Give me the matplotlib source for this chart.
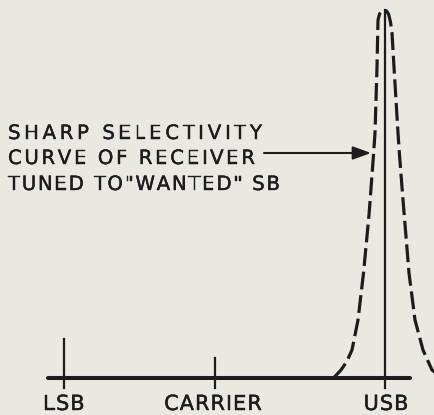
import matplotlib.pyplot as plt
import matplotlib.patheffects as pe
from matplotlib import font_manager, ft2font

# Frequency markers along the baseline (x in px, tick height above baseline)
marker_names = ['LSB', 'CARRIER', 'USB']
marker_x = [64, 215, 385]
marker_top = [39, 20, 367]

# Label positions under the baseline (centre x)
label_x = [64, 213, 386]

# Dashed selectivity curve (x, y in image px)
curve_x = [334, 341, 346.5, 352, 358, 363.5, 369, 373.5, 375, 377, 378, 379.5, 381.5,
           384, 386.5, 388.5, 390.5, 392, 394, 398, 399.5, 403, 409, 415, 423, 432, 440]
curve_p = [377.5, 370, 362, 350, 320, 273, 215, 155, 133, 67, 20, 14, 11,
           10, 11, 14, 22, 33, 67, 133, 155, 200, 273, 320, 350, 370, 376]

# Caption lines
caption = ['SHARP SELECTIVITY', 'CURVE OF RECEIVER', 'TUNED TO"WANTED" SB']

BASE = 377.5      # baseline in image px
INK = '#1d1b1d'
PAPER = '#e9e9e1'
FONT = 'DejaVu Sans'


def to_h(p):
    # image px row -> height above baseline
    return BASE - p


fig = plt.figure(figsize=(4.35, 4.15), dpi=100, facecolor=PAPER)
ax = fig.add_axes([0, 0, 1, 1])
ax.set_xlim(0, 435)
ax.set_ylim(to_h(415), to_h(0))
ax.set_facecolor(PAPER)
ax.axis('off')

font_path = font_manager.findfont(font_manager.FontProperties(family=FONT))
heavy = [pe.withStroke(linewidth=0.3, foreground=INK)]


def spaced_text(x, p, s, size, width=None, track=0.0, centre=False):
    # draw text char by char so the wide letter spacing of the original can be matched
    f = ft2font.FT2Font(font_path)
    f.set_size(size, 100)
    adv = [f.load_char(ord(c)).linearHoriAdvance / 65536 for c in s]
    if width is not None:
        track = (width - sum(adv)) / (len(s) - 1)
    total = sum(adv) + track * (len(s) - 1)
    xx = x - total / 2 if centre else x
    for c, a in zip(s, adv):
        ax.text(xx, to_h(p), c, fontsize=size, family=FONT, color=INK,
                ha='left', va='baseline', path_effects=heavy)
        xx += a + track


# baseline
ax.plot([48, 410], [0, 0], color=INK, lw=2.9, solid_capstyle='round')

# marker ticks
for mx, top in zip(marker_x, marker_top):
    ax.plot([mx, mx], [-10, top], color=INK, lw=1.6)

# selectivity curve
ax.plot(curve_x, [to_h(p) for p in curve_p], color=INK, lw=2.3,
        dashes=(5.6, 1.8), dash_capstyle='butt')

# arrow pointing to the curve
ax.annotate('', xy=(371, to_h(153)), xytext=(264, to_h(153)),
            arrowprops=dict(arrowstyle='-|>,head_length=0.55,head_width=0.2',
                            mutation_scale=20, lw=1.5, color=INK,
                            shrinkA=0, shrinkB=0))

# caption
spaced_text(8, 139, caption[0], 14.2, width=254)
spaced_text(8, 164, caption[1], 14.2, width=247)
spaced_text(8, 190, caption[2], 14.2, width=272)

# labels
for name, lx in zip(marker_names, label_x):
    spaced_text(lx, 410, name, 15, track=1.0, centre=True)

fig.savefig('out.png', dpi=100, facecolor=PAPER)
